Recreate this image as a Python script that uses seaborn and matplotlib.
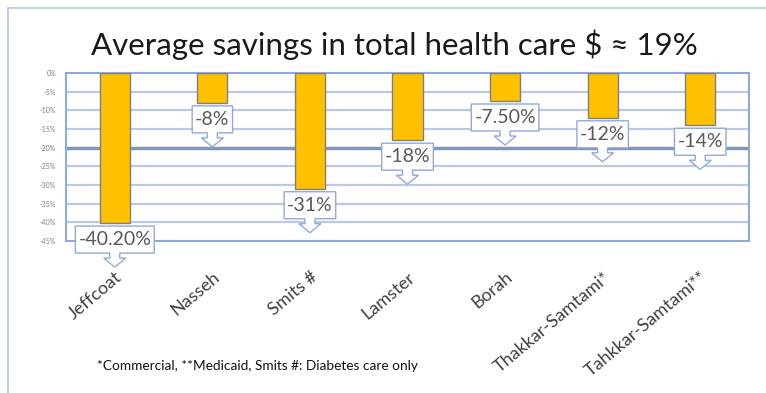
import matplotlib
matplotlib.use("Agg")
import matplotlib.pyplot as plt
import seaborn as sns
import pandas as pd
from matplotlib.patches import Polygon
from matplotlib.transforms import IdentityTransform
from matplotlib.lines import Line2D

# ---- data ----
studies = ["Jeffcoat", "Nasseh", "Smits #", "Lamster", "Borah",
           "Thakkar-Samtami*", "Tahkkar-Samtami**"]
savings = [-40.2, -8, -31, -18, -7.5, -12, -14]
value_labels = ["-40.20%", "-8%", "-31%", "-18%", "-7.50%", "-12%", "-14%"]
yticks = [0, -5, -10, -15, -20, -25, -30, -35, -40, -45]
ytick_labels = ["0%", "-5%", "-10%", "-15%", "-20%", "-25%", "-30%", "-35%", "-40%", "-45%"]
title = r"Average savings in total health care \$ ≈ 19%"
footnote = "*Commercial, **Medicaid, Smits #: Diabetes care only"

sns.set_theme(style="white")
plt.rcParams['font.family'] = ['Lato', 'DejaVu Sans']

W, H = 766, 393
fig = plt.figure(figsize=(W / 100, H / 100), dpi=100)
ax = fig.add_axes([66 / W, 1 - 241 / H, (749 - 66) / W, (241 - 73) / H])

df = pd.DataFrame({"study": studies, "saving": savings})
sns.barplot(data=df, x="study", y="saving", color="#FFC000", saturation=1,
            width=0.31, edgecolor="#7f7f7f", linewidth=1, ax=ax, zorder=3)
ax.set_ylim(-45, 0)
ax.set_xlim(-0.5, len(studies) - 0.5)
ax.set_xlabel("")
ax.set_ylabel("")

for yv in yticks:
    if yv == -20:
        ax.axhline(yv, color="#8096bb", lw=2.5, zorder=1)
    elif yv not in (0, -45):
        ax.axhline(yv, color="#b9c9e6", lw=1.6, zorder=1)
for s in ax.spines.values():
    s.set_color("#8eaadb")
    s.set_linewidth(1.5)

ax.set_yticks(yticks)
ax.set_yticklabels(ytick_labels, fontsize=5, color="#7f7f7f")
ax.tick_params(axis="y", length=0, pad=7)
ax.set_xticks(range(len(studies)))
ax.set_xticklabels(studies, rotation=40, ha="right", rotation_mode="anchor",
                   fontsize=13, color="#404040")
ax.tick_params(axis="x", length=0, pad=20)

# title and footnote
fig.text(394 / W, 1 - 45 / H, title, ha="center", va="center", fontsize=22.5, color="#1a1a1a")
fig.text(97 / W, 1 - 366 / H, footnote, ha="left", va="center", fontsize=9.8, color="#111111")

# outer frame (top and left)
fig.add_artist(Line2D([8 / W, 1], [1 - 8 / H, 1 - 8 / H], color="#b4c7e7", lw=1.2))
fig.add_artist(Line2D([8 / W, 8 / W], [0, 1 - 8 / H], color="#b4c7e7", lw=1.2))

# callout labels
fig.canvas.draw()
renderer = fig.canvas.get_renderer()
ident = IdentityTransform()
for i, (v, lab) in enumerate(zip(savings, value_labels)):
    px, py = ax.transData.transform((i, v))
    top = py - 3
    bot = top - 27
    t = fig.text(px, (top + bot) / 2, lab, transform=ident, ha="center", va="center",
                 fontsize=14, color="#595959", zorder=7)
    w = t.get_window_extent(renderer).width
    L, R = px - w / 2 - 3, px + w / 2 + 3
    verts = [(L, top), (R, top), (R, bot), (px + 5, bot), (px + 5, bot - 5),
             (px + 11, bot - 5), (px, bot - 14), (px - 11, bot - 5), (px - 5, bot - 5),
             (px - 5, bot), (L, bot)]
    poly = Polygon(verts, closed=True, transform=ident, facecolor="white",
                   edgecolor="#8faadc", lw=1, zorder=6)
    fig.add_artist(poly)

fig.savefig("out.png", dpi=100)
